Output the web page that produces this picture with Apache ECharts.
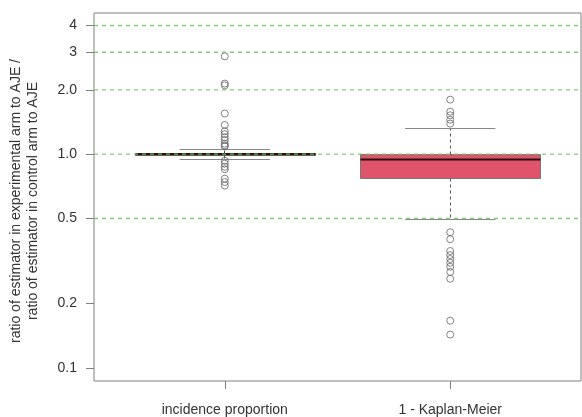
<!DOCTYPE html>
<html><head><meta charset="utf-8">
<script src="https://cdn.jsdelivr.net/npm/echarts@6/dist/echarts.min.js"></script>
<style>html,body{margin:0;padding:0;background:#fff}#c{width:582px;height:417px}</style>
</head><body><div id="c"></div>
<script>
const categories = ['incidence proportion', '1 - Kaplan-Meier'];
// [lower whisker, Q1, median, Q3, upper whisker]
const boxIncidence = [0.941, 0.99, 1.0, 1.01, 1.056];
const boxKM = [0.495, 0.77, 0.944, 1.0, 1.325];
const outliersIncidence = [2.87, 2.14, 2.10, 1.55, 1.37, 1.28, 1.24, 1.20, 1.165, 1.12, 1.10, 1.087, 0.931, 0.902, 0.873, 0.85, 0.768, 0.74, 0.713];
const outliersKM = [1.80, 1.58, 1.52, 1.45, 1.39, 0.431, 0.40, 0.352, 0.337, 0.323, 0.31, 0.297, 0.281, 0.261, 0.166, 0.143];
const yTickValues = [0.1, 0.2, 0.5, 1, 2, 3, 4];
const yTickLabels = ['0.1', '0.2', '0.5', '1.0', '2.0', '3', '4'];
const refLines = [0.5, 1, 2, 3, 4];

const FONT = 'Liberation Sans, Arial, sans-serif';
const GREEN = '#6fcc5c';
const chart = echarts.init(document.getElementById('c'), null, {renderer: 'canvas'});

function yLabel(v) {
  let best = 0, bd = Infinity;
  yTickValues.forEach((t, i) => { const d = Math.abs(Math.log(v) - Math.log(t)); if (d < bd) { bd = d; best = i; } });
  return yTickLabels[best];
}
const snap = y => Math.round(y - 0.5) + 0.5;

const boxData = [[1].concat(boxIncidence), [2].concat(boxKM)];
const outlierData = outliersIncidence.map(v => [1, v]).concat(outliersKM.map(v => [2, v]));
const refData = refLines.map(v => [1.5, v]);

chart.setOption({
  animation: false,
  backgroundColor: '#fff',
  grid: {left: 93, right: 1, top: 13, bottom: 33, show: true, borderColor: '#808080', borderWidth: 1, backgroundColor: 'transparent'},
  xAxis: {
    type: 'value', min: 0.42, max: 2.58,
    splitLine: {show: false}, axisLine: {show: false},
    axisTick: {show: true, customValues: [1, 2], length: 8, lineStyle: {color: '#808080'}},
    axisLabel: {customValues: [1, 2], formatter: v => categories[Math.round(v) - 1], margin: 22, fontSize: 14, color: '#333', fontFamily: FONT}
  },
  yAxis: {
    type: 'log', logBase: 10, min: 0.0867, max: 4.58,
    splitLine: {show: false}, axisLine: {show: false}, minorTick: {show: false},
    axisTick: {show: true, customValues: yTickValues, length: 8, lineStyle: {color: '#808080'}},
    axisLabel: {customValues: yTickValues, formatter: yLabel, margin: 17, fontSize: 14, color: '#333', fontFamily: FONT},
    name: 'ratio of estimator in experimental arm to AJE /\nratio of estimator in control arm to AJE',
    nameLocation: 'middle', nameGap: 52, nameRotate: 90,
    nameTextStyle: {fontSize: 14, lineHeight: 17, color: '#333', fontFamily: FONT, padding: [0, 8, 0, 0]}
  },
  series: [
    {
      type: 'custom', z: 2, silent: true,
      data: boxData,
      encode: {x: 0, y: [1, 2, 3, 4, 5]},
      renderItem: function (params, api) {
        const x = api.value(0);
        const p = (dx, v) => api.coord([x + dx, v]);
        const lo = api.value(1), q1 = api.value(2), md = api.value(3), q3 = api.value(4), hi = api.value(5);
        const c = snap(p(0, md)[0]);
        const bl = Math.round(p(-0.4, md)[0]) + 0.5, br = Math.round(p(0.4, md)[0]) + 0.5;
        const sl = p(-0.2, md)[0], sr = p(0.2, md)[0];
        const yLo = snap(p(0, lo)[1]), yQ1 = snap(p(0, q1)[1]), yMd = p(0, md)[1], yQ3 = snap(p(0, q3)[1]), yHi = snap(p(0, hi)[1]);
        const wStyle = {stroke: '#555', lineWidth: 1, lineDash: [3, 3]};
        const sStyle = {stroke: '#888', lineWidth: 1};
        return {type: 'group', children: [
          {type: 'line', shape: {x1: c, y1: yQ3, x2: c, y2: yHi}, style: wStyle},
          {type: 'line', shape: {x1: c, y1: yQ1, x2: c, y2: yLo}, style: wStyle},
          {type: 'line', shape: {x1: sl, y1: yHi, x2: sr, y2: yHi}, style: sStyle},
          {type: 'line', shape: {x1: sl, y1: yLo, x2: sr, y2: yLo}, style: sStyle},
          {type: 'rect', shape: {x: bl, y: yQ3, width: br - bl, height: yQ1 - yQ3}, style: {fill: '#DF536B', stroke: '#777', lineWidth: 1}},
          {type: 'line', shape: {x1: bl, y1: yMd, x2: br, y2: yMd}, style: {stroke: '#2a1015', lineWidth: 2.2}}
        ]};
      }
    },
    {
      type: 'scatter', z: 4, silent: true,
      data: outlierData,
      symbol: 'circle', symbolSize: 7,
      itemStyle: {color: 'rgba(0,0,0,0)', borderColor: '#666', borderWidth: 1}
    },
    {
      type: 'custom', z: 6, silent: true,
      data: refData,
      encode: {x: 0, y: 1},
      renderItem: function (params, api) {
        const y = api.coord([api.value(0), api.value(1)])[1];
        const cs = params.coordSys;
        return {type: 'line', shape: {x1: cs.x, y1: y, x2: cs.x + cs.width, y2: y},
          style: {stroke: GREEN, lineWidth: 1.4, lineDash: [4, 4], opacity: 0.9}};
      }
    }
  ]
});
</script>
</body></html>
